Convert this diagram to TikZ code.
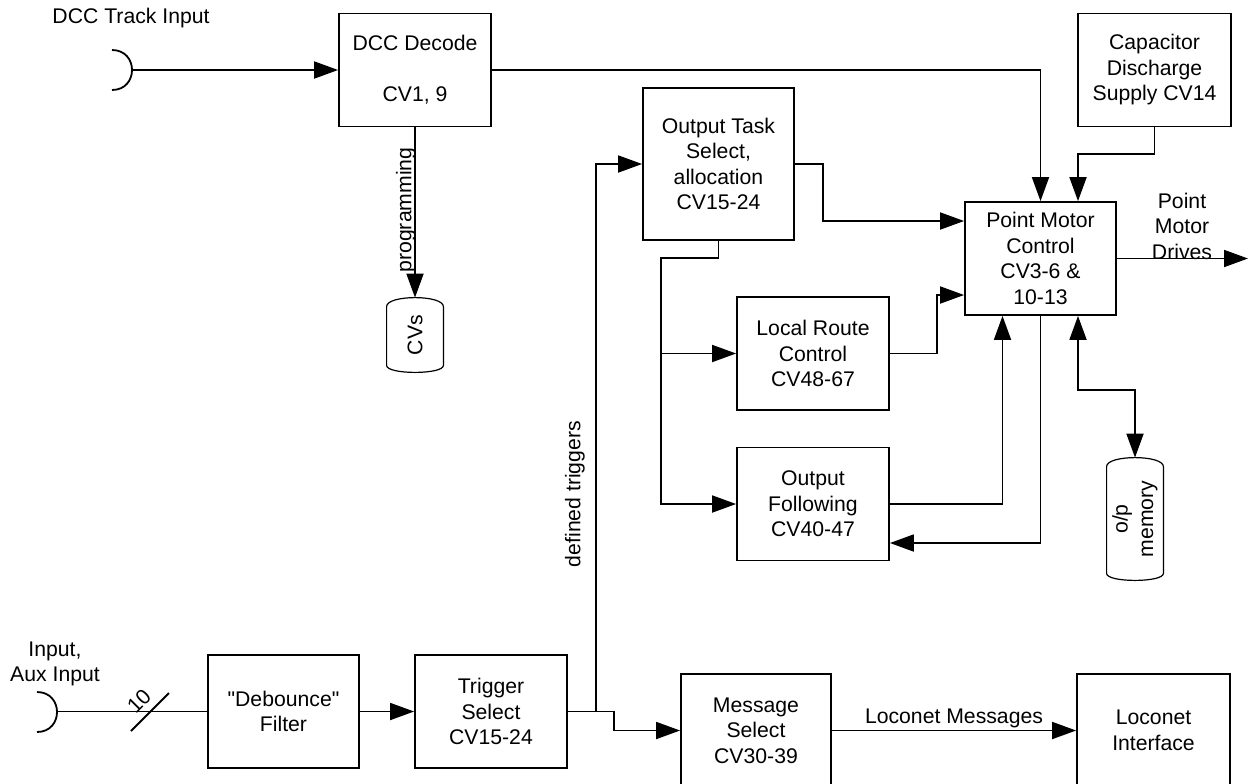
\documentclass[tikz,border=0pt]{standalone}
\usepackage{fontspec}
\setmainfont{Liberation Sans}
\usetikzlibrary{arrows.meta}
\newcommand\lbl{\fontsize{10.6pt}{12.75pt}\selectfont}
% outline of a data-store cylinder drawn around a (borderless) node
\newcommand\drawstore[1]{%
  \draw[store line] ([yshift=-4.5pt]#1.north west)
    .. controls ([yshift=1.5pt]#1.north west) and ([yshift=1.5pt]#1.north east) ..
    ([yshift=-4.5pt]#1.north east) -- ([yshift=3.5pt]#1.south east)
    .. controls ([yshift=-1.17pt]#1.south east) and ([yshift=-1.17pt]#1.south west) ..
    ([yshift=3.5pt]#1.south west) -- cycle;}
\tikzset{
  block/.style={draw, line width=0.9pt, align=center, inner sep=0pt,
    minimum width=76pt, minimum height=56.5pt, font=\lbl},
  store/.style={inner sep=0pt, minimum width=28pt},
  store line/.style={line width=0.6pt},
  txt/.style={align=center, inner sep=0pt, font=\lbl},
  wire/.style={line width=0.9pt},
  flow/.style={wire, -{Triangle[length=12pt,width=8.5pt]}},
  both/.style={wire, {Triangle[length=12pt,width=8.5pt]}-{Triangle[length=12pt,width=8.5pt]}},
}
\begin{document}
\begin{tikzpicture}[x=0.5pt,y=-0.5pt]
\useasboundingbox (0,0) rectangle (1248,783);
\fill[white] (0,0) rectangle (1248,783);
\clip (0,0) rectangle (1248,783);

% blocks
\node[block] (dcc) at (415,70) {DCC Decode\\[12.75pt]CV1, 9};
\node[block, minimum width=76.5pt] (cap) at (1154.5,70) {Capacitor\\Discharge\\Supply CV14};
\node[block, minimum width=75.5pt, minimum height=76pt] (ots) at (718.5,164) {Output Task\\Select,\\allocation\\CV15-24};
\node[block, minimum width=75.5pt] (pmc) at (1040.5,258.5) {Point Motor\\Control\\CV3-6 \&\\10-13};
\node[block] (lrc) at (813,353.5) {Local Route\\Control\\CV48-67};
\node[block] (of) at (813,504) {Output\\Following\\CV40-47};
\node[block, minimum width=75.5pt] (deb) at (283.5,711.5) {\textquotedbl Debounce\textquotedbl\\Filter};
\node[block] (trg) at (491,711.5) {Trigger\\Select\\CV15-24};
\node[block, minimum width=75pt] (msg) at (756,730.5) {Message\\Select\\CV30-39};
\node[block, minimum width=76.5pt] (loco) at (1153.5,730.5) {Loconet\\Interface};

% data stores
\node[store, minimum height=37pt] (cvs) at (415,335) {};
\node[txt, rotate=90] (cvstxt) at (cvs.center) {CVs};
\node[store, minimum height=61pt] (mem) at (1135,519) {};
\node[txt, rotate=90] (memtxt) at (mem.center) {o/p\\memory};
\drawstore{cvs}
\drawstore{mem}

% free labels
\node[txt] (trackin) at (131,18) {DCC Track Input};
\node[txt] (auxin) at (55,664) {Input,\\Aux Input};
\node[txt] (drives) at (1182,226) {Point\\Motor\\Drives};
\node[txt, rotate=90] (prog) at (406,210) {programming};
\node[txt, rotate=90] (trig) at (575,494) {defined triggers};

% input jacks
\draw[wire] (112,50) .. controls (138.7,50) and (138.7,90) .. (112,90);
\coordinate (dccjack) at (132,70);
\draw[wire] (37,692) .. controls (63.7,692) and (63.7,732) .. (37,732);
\coordinate (auxjack) at (57,711.5);
\draw[wire] (131,731) -- (169,693);
\node[txt, rotate=45] (width) at (139,701) {10};

% waypoints
\coordinate (capbend) at (1078,154);
\coordinate (otsbend) at (823,221);
\coordinate (fanx) at (661,258);
\coordinate (lrcbend) at (937,295);
\coordinate (membend) at (1135,390);
\coordinate (drvout) at (1248,258.5);
\coordinate (tsplit) at (596,711.5);
\coordinate (tstep) at (614,711.5);

% connectors
\draw[flow] (dccjack) -- (dcc);
\draw[flow] (dcc.east) -| (pmc.north);
\draw[flow] (dcc.south) -- (cvs.north);
\draw[flow] (cap.south) |- (capbend) -- (capbend |- pmc.north);
\draw[flow] (ots.east) -| (otsbend) -- (otsbend -| pmc.west);
\draw[flow] (ots.south) |- (fanx) |- (of.west);
\draw[flow] (fanx |- lrc.west) -- (lrc.west);
\draw[flow] (lrc.east) -| (lrcbend) -- (lrcbend -| pmc.west);
\draw[flow] (of.east) -| ([xshift=-19pt]pmc.south);
\draw[flow] (pmc.south) |- ([yshift=-19.5pt]of.east);
\draw[both] ([xshift=18.75pt]pmc.south) |- (membend) -- (mem.north);
\draw[flow] (pmc.east) -- (drvout);
\draw[wire] (auxjack) -- (deb);
\draw[flow] (deb) -- (trg);
\draw[flow] (trg.east) -- (tstep) |- (msg.west);
\draw[flow] (tsplit) |- (ots.west);
\draw[flow] (msg) -- (loco) node[midway, above, inner sep=1pt, font=\lbl] (msglbl) {Loconet Messages};
\end{tikzpicture}
\end{document}
